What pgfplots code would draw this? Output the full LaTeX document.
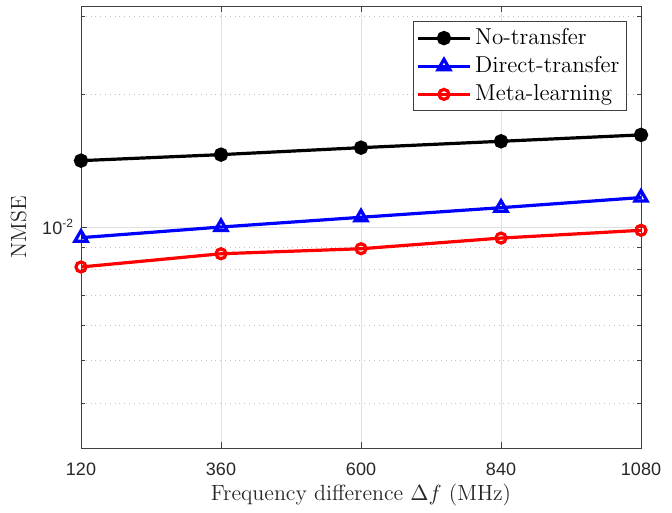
\documentclass[border=0pt]{standalone}
\usepackage{fontspec}
\usepackage{pgfplots}
\pgfplotsset{compat=1.18}
\newfontfamily\arial{Liberation Sans}
\begin{document}
\begin{tikzpicture}
\begin{axis}[
  scale only axis,
  width=280pt, height=221pt,
  ymode=log,
  xmin=120, xmax=1080,
  ymin=0.0031623, ymax=0.031623,
  xtick={120,360,600,840,1080},
  ytick={0.01},
  yticklabels={10\textsuperscript{-2}},
  minor ytick={0.004,0.005,0.006,0.007,0.008,0.009,0.02,0.03},
  tick align=inside,
  major tick length=3pt, minor tick length=1.8pt,
  xtick pos=both, ytick pos=both,
  grid=both,
  major grid style={draw=black!12, line width=0.4pt},
  minor grid style={draw=black!25, dotted, line width=0.4pt},
  axis line style={draw=black!75, line width=0.5pt},
  every tick/.style={black!75, line width=0.4pt},
  /pgf/number format/assume math mode=true,
  /pgf/number format/1000 sep={},
  tick label style={font=\arial\fontsize{9}{10}\selectfont, text=black!85},
  xticklabel style={yshift=-4pt},
  label style={font=\fontsize{11}{12}\selectfont, text=black!85},
  xlabel={Frequency difference $\Delta f$ (MHz)},
  ylabel={NMSE},
  xlabel style={yshift=3pt},
  ylabel style={yshift=1pt},
  legend style={at={(1,1)}, xshift=-7pt, yshift=-7.5pt, anchor=north east,
    font=\fontsize{11.5}{13}\selectfont, draw=black!75, line width=0.5pt,
    inner sep=1.5pt, row sep=0.5pt},
  legend cell align=left,
  legend image code/.code={\draw[mark repeat=2, mark phase=2, line width=1.6pt]
    plot coordinates {(0cm,0cm) (0.45cm,0cm) (0.9cm,0cm)};},
]
\addplot[black, line width=1.6pt, mark=*, mark size=2.8pt, mark options={fill=black}]
  coordinates {(120,0.01413) (360,0.01458) (600,0.01512) (840,0.01563) (1080,0.01616)};
\addlegendentry{No-transfer}
\addplot[blue, line width=1.6pt, mark=triangle, mark size=3.5pt, mark options={line width=1.6pt, fill=white}]
  coordinates {(120,0.00946) (360,0.01000) (600,0.01052) (840,0.01106) (1080,0.01166)};
\addlegendentry{Direct-transfer}
\addplot[red, line width=1.6pt, mark=o, mark size=2.5pt, mark options={line width=1.6pt, fill=white}]
  coordinates {(120,0.00812) (360,0.00870) (600,0.00893) (840,0.00944) (1080,0.00983)};
\addlegendentry{Meta-learning}
\end{axis}
\useasboundingbox ([shift={(-40.5pt,-27pt)}]current axis.south west) rectangle ([shift={(15.5pt,3pt)}]current axis.north east);
\end{tikzpicture}
\end{document}
